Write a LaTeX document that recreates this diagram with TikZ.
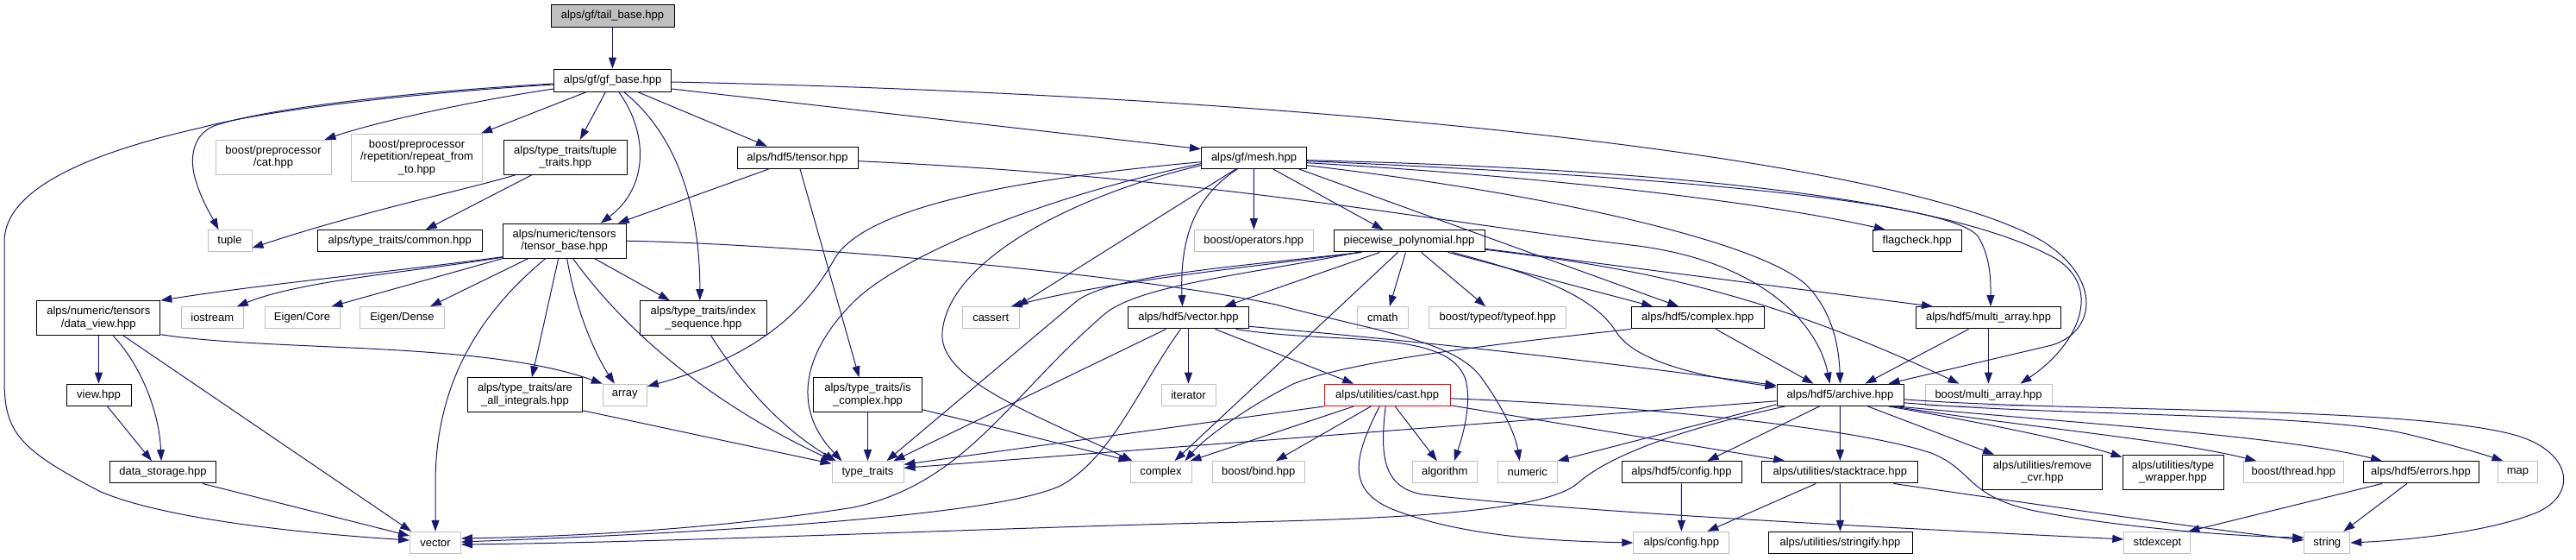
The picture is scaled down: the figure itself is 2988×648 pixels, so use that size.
\documentclass[tikz,border=0pt]{standalone}
\usepackage{fontspec}
\setmainfont{Liberation Sans}
\usetikzlibrary{arrows.meta}
\definecolor{edgec}{HTML}{191970}
\definecolor{extgray}{HTML}{BFBFBF}
\definecolor{tailfill}{HTML}{BFBFBF}
\newcommand{\nodefont}{\fontsize{13}{14.5}\selectfont}
\tikzset{
 nb/.style={draw=black, line width=1pt, fill=white, inner sep=0pt, align=center, font=\nodefont, minimum height=25.3pt},
 ng/.style={nb, draw=extgray},
 nr/.style={nb, draw=red},
 wd/.style={minimum width=#1pt},
 hh/.style={minimum height=#1pt},
 dep/.style={draw=edgec, line width=1pt, -{Triangle[length=13pt,width=9pt]}},
}
\begin{document}
\begin{tikzpicture}[x=1pt,y=-1pt]
\useasboundingbox (0,0) rectangle (2988,648);
% nodes
\node[nb, fill=tailfill, wd=143, hh=26] (tb) at (710.5,18.5) {alps/gf/tail\_base.hpp};
\node[nb, wd=136, hh=26] (gf) at (710.5,93) {alps/gf/gf\_base.hpp};
\node[ng, wd=134, hh=40] (cat) at (317,182.3) {boost/preprocessor\\/cat.hpp};
\node[ng, wd=152, hh=55] (rep) at (483.5,182.5) {boost/preprocessor\\/repetition/repeat\_from\\\_to.hpp};
\node[nb, wd=143, hh=40] (tt) at (655.8,182.3) {alps/type\_traits/tuple\\\_traits.hpp};
\node[nb, wd=140] (ht) at (925,182.7) {alps/hdf5/tensor.hpp};
\node[nb, wd=122] (mesh) at (1454.5,182.7) {alps/gf/mesh.hpp};
\node[ng, wd=51] (tuple) at (266.5,279.3) {tuple};
\node[nb, wd=191] (common) at (463.8,279.3) {alps/type\_traits/common.hpp};
\node[nb, wd=143, hh=40] (tbase) at (654.7,279.2) {alps/numeric/tensors\\/tensor\_base.hpp};
\node[ng, wd=138] (bops) at (1454.3,279.3) {boost/operators.hpp};
\node[nb, wd=175] (pp) at (1634.5,279.3) {piecewise\_polynomial.hpp};
\node[nb, wd=103] (flag) at (2223.8,279.3) {flagcheck.hpp};
\node[nb, wd=143, hh=40] (dv) at (114.3,368.7) {alps/numeric/tensors\\/data\_view.hpp};
\node[ng, wd=72] (ios) at (246.3,368.3) {iostream};
\node[ng, wd=87] (ecore) at (350.5,368.3) {Eigen/Core};
\node[ng, wd=98] (edense) at (466.5,368.3) {Eigen/Dense};
\node[nb, wd=147, hh=40] (iseq) at (815.8,368.7) {alps/type\_traits/index\\\_sequence.hpp};
\node[ng, wd=66] (cassert) at (1149.2,368.3) {cassert};
\node[nb, wd=140] (hvec) at (1378.5,368.3) {alps/hdf5/vector.hpp};
\node[ng, wd=59] (cmath) at (1603.8,368.3) {cmath};
\node[ng, wd=159] (typeof) at (1737.2,368.3) {boost/typeof/typeof.hpp};
\node[nb, wd=154] (hcx) at (1969.2,368.3) {alps/hdf5/complex.hpp};
\node[nb, wd=168] (hma) at (2306.5,368.3) {alps/hdf5/multi\_array.hpp};
\node[nb, wd=75] (view) at (114.5,457.8) {view.hpp};
\node[nb, wd=133, hh=40] (aai) at (609,457.8) {alps/type\_traits/are\\\_all\_integrals.hpp};
\node[ng, wd=51] (array) at (724.8,457.8) {array};
\node[nb, wd=126, hh=40] (isc) at (1006.5,457.8) {alps/type\_traits/is\\\_complex.hpp};
\node[ng, wd=63] (iter) at (1378.5,457.8) {iterator};
\node[nr, wd=146] (cast) at (1609.2,457.8) {alps/utilities/cast.hpp};
\node[nb, wd=147] (arch) at (2134.5,457.8) {alps/hdf5/archive.hpp};
\node[ng, wd=147] (bma) at (2306.5,457.8) {boost/multi\_array.hpp};
\node[nb, wd=123] (ds) at (189,547.3) {data\_storage.hpp};
\node[ng, wd=83] (tt2) at (1006.5,547.3) {type\_traits};
\node[ng, wd=71] (cplx) at (1346.5,547.3) {complex};
\node[ng, wd=107] (bind) at (1459.8,547.3) {boost/bind.hpp};
\node[ng, wd=75] (algo) at (1675.8,547.3) {algorithm};
\node[ng, wd=69] (num) at (1771.7,547.3) {numeric};
\node[nb, wd=139] (hcfg) at (1950.5,547.3) {alps/hdf5/config.hpp};
\node[nb, wd=181] (stack) at (2134.3,547.3) {alps/utilities/stacktrace.hpp};
\node[nb, wd=139, hh=40] (rcvr) at (2369,547.2) {alps/utilities/remove\\\_cvr.hpp};
\node[nb, wd=117, hh=40] (tw) at (2520.5,547.2) {alps/utilities/type\\\_wrapper.hpp};
\node[ng, wd=116] (bthr) at (2660.3,547.3) {boost/thread.hpp};
\node[nb, wd=134] (err) at (2808,547.3) {alps/hdf5/errors.hpp};
\node[ng, wd=46] (map) at (2920.5,547.3) {map};
\node[ng, wd=59] (vec) at (505,629) {vector};
\node[ng, wd=111] (acfg) at (1950.3,629) {alps/config.hpp};
\node[nb, wd=167] (strfy) at (2134.5,629) {alps/utilities/stringify.hpp};
\node[ng, wd=77] (stdex) at (2502.3,629) {stdexcept};
\node[ng, wd=53] (str) at (2699.3,629) {string};
% edges
\draw[dep] (tb) -- (gf);
\draw[dep] ([yshift=-4pt]gf.west) .. controls (450,108) and (300,128) .. (248,146) .. controls (220,158) and (220,190) .. (228,212) .. controls (234,232) and (245,250) .. ([xshift=-13pt]tuple.north);
\draw[dep] ([yshift=-5pt]gf.west) .. controls (450,110) and (300,130) .. (233,148) .. controls (100,178) and (5,220) .. (5,280) -- (5,440) .. controls (5,500) and (20,520) .. (117,570) .. controls (200,605) and (380,620) .. ([yshift=3pt]vec.west);
\draw[dep] ([yshift=-10pt]gf.west) .. controls (560,115) and (440,140) .. ([xshift=-8pt]cat.north east);
\draw[dep] ([xshift=-30pt]gf.south) -- ([xshift=-2pt]rep.north east);
\draw[dep] ([xshift=-8pt]gf.south) -- ([xshift=17pt]tt.north);
\draw[dep] ([xshift=7pt]gf.south) .. controls (750,150) and (755,215) .. ([xshift=42pt]tbase.north);
\draw[dep] ([xshift=13pt]gf.south) .. controls (790,160) and (812,250) .. ([xshift=-4pt]iseq.north);
\draw[dep] ([xshift=29pt]gf.south) -- ([xshift=-35pt]ht.north);
\draw[dep] ([yshift=-10pt]gf.east) -- ([yshift=10pt]mesh.west);
\draw[dep] ([yshift=-2pt]gf.east) .. controls (1500,110) and (2200,180) .. (2370,280) .. controls (2440,325) and (2430,385) .. (2380,400) -- ([xshift=-18pt]arch.north east);
% mesh
\draw[dep] ([yshift=-3pt]mesh.east) .. controls (1900,195) and (2250,225) .. (2385,300) .. controls (2440,335) and (2410,400) .. ([xshift=37pt]bma.north);
\draw[dep] ([yshift=-4pt]mesh.east) .. controls (1950,205) and (2270,235) .. (2295,275) .. controls (2310,300) and (2309,330) .. ([xshift=2.5pt]hma.north);
\draw[dep] ([yshift=-6pt]mesh.east) .. controls (1800,205) and (2050,235) .. ([xshift=15pt]flag.north west);
\draw[dep] ([xshift=22pt]mesh.south) -- ([xshift=-30pt]pp.north);
\draw[dep] ([xshift=52pt]mesh.south) -- ([xshift=-22pt]hcx.north);
\draw[dep] ([yshift=-9pt]mesh.east) .. controls (1800,225) and (2040,280) .. (2095,330) .. controls (2125,360) and (2133,400) .. (arch.north);
\draw[dep] (mesh) -- (bops);
\draw[dep] ([yshift=-5pt]mesh.west) .. controls (1150,210) and (1000,245) .. (968,300) .. controls (940,350) and (890,410) .. ([yshift=10pt]array.east);
\draw[dep] ([yshift=-7pt]mesh.west) .. controls (1200,230) and (1040,300) .. (990,350) .. controls (935,405) and (915,470) .. ([xshift=12pt]tt2.north west);
\draw[dep] ([yshift=-9pt]mesh.west) .. controls (1250,225) and (1100,300) .. (1093,385) .. controls (1088,440) and (1200,480) .. ([xshift=3pt]cplx.north west);
\draw[dep] ([xshift=-21pt]mesh.south) -- ([xshift=-3pt]cassert.north east);
\draw[dep] ([xshift=-19pt]mesh.south) .. controls (1390,225) and (1368,270) .. ([xshift=-7pt]hvec.north);
% piecewise
\draw[dep] ([xshift=-57pt]pp.south) .. controls (1450,310) and (1290,325) .. ([xshift=-10pt]cassert.north east);
\draw[dep] ([xshift=-60pt]pp.south) .. controls (1450,318) and (1320,330) .. (1280,365) .. controls (1170,460) and (1120,560) .. (990,588) .. controls (820,615) and (650,622) .. ([yshift=5pt]vec.east);
\draw[dep] ([xshift=-55pt]pp.south) .. controls (1420,310) and (1290,320) .. (1250,348) -- ([xshift=22pt]tt2.north);
\draw[dep] ([xshift=-34pt]pp.south) -- ([xshift=42pt]hvec.north);
\draw[dep] ([xshift=-4pt]pp.south) -- ([xshift=8pt]cmath.north);
\draw[dep] ([xshift=14pt]pp.south) -- ([xshift=-14pt]typeof.north);
\draw[dep] ([xshift=-13pt]pp.south) -- ([xshift=16pt]cplx.north);
\draw[dep] ([xshift=45pt]pp.south) -- ([xshift=-52pt]hcx.north);
\draw[dep] ([xshift=50pt]pp.south) .. controls (1790,320) and (1850,345) .. (1875,385) .. controls (1900,425) and (2000,440) .. ([yshift=-4pt]arch.north west);
\draw[dep] ([yshift=-9pt]pp.east) -- ([xshift=20pt]hma.north west);
\draw[dep] ([yshift=-10pt]pp.east) .. controls (1900,310) and (2050,340) .. ([xshift=40pt]bma.north west);
% hdf5 complex / multi_array
\draw[dep] ([xshift=21pt]hcx.south) -- ([xshift=-31pt]arch.north);
\draw[dep] (hcx.south west) .. controls (1720,400) and (1560,420) .. (1500,445) .. controls (1450,470) and (1400,505) .. ([xshift=-8pt]cplx.north east);
\draw[dep] ([xshift=-23pt]hma.south) -- ([xshift=29pt]arch.north);
\draw[dep] (hma) -- (bma);
% hdf5 tensor
\draw[dep] ([xshift=-33pt]ht.south) -- ([xshift=62pt]tbase.north);
\draw[dep] ([xshift=3pt]ht.south) -- ([xshift=-10pt]isc.north);
\draw[dep] ([yshift=-4pt]ht.east) .. controls (1400,205) and (1650,255) .. (1900,285) .. controls (2050,305) and (2110,380) .. ([xshift=-12pt]arch.north);
% tuple traits
\draw[dep] ([xshift=-58pt]tt.south) .. controls (540,220) and (420,245) .. ([yshift=-8pt]tuple.east);
\draw[dep] ([xshift=-39pt]tt.south) -- ([xshift=30pt]common.north);
% tensor base
\draw[dep] ([yshift=-18.5pt]tbase.west) .. controls (480,312) and (300,330) .. (dv.north east);
\draw[dep] ([yshift=-19pt]tbase.west) .. controls (480,315) and (350,325) .. ([xshift=-8pt]ios.north east);
\draw[dep] (tbase.south west) -- ([xshift=-10pt]ecore.north east);
\draw[dep] ([xshift=-42pt]tbase.south) -- ([xshift=-17pt]edense.north east);
\draw[dep] ([xshift=-22pt]tbase.south) .. controls (560,360) and (505,440) .. (505,560) -- (vec.north);
\draw[dep] ([xshift=-7pt]tbase.south) -- ([xshift=8pt]aai.north);
\draw[dep] ([xshift=3pt]tbase.south) .. controls (668,360) and (690,410) .. ([xshift=-12pt]array.north);
\draw[dep] ([xshift=10pt]tbase.south) .. controls (730,390) and (830,470) .. ([xshift=2pt]tt2.north west);
\draw[dep] ([xshift=35pt]tbase.south) -- ([xshift=-39pt]iseq.north);
\draw[dep] (tbase.east) .. controls (900,282) and (1300,315) .. (1480,353) .. controls (1600,385) and (1690,395) .. (1720,440) .. controls (1745,475) and (1758,505) .. ([xshift=-9pt]num.north);
% data view
\draw[dep] (dv) -- (view);
\draw[dep] ([xshift=17pt]dv.south) .. controls (165,425) and (185,480) .. ([xshift=-2pt]ds.north);
\draw[dep] ([xshift=29pt]dv.south) -- ([xshift=2pt]vec.north west);
\draw[dep] ([yshift=-19pt]dv.east) .. controls (320,408) and (560,395) .. (array.north west);
\draw[dep] ([xshift=10pt]view.south) -- ([xshift=-13pt]ds.north);
\draw[dep] ([xshift=46pt]ds.south) -- ([yshift=8pt]vec.west);
\draw[dep] ([yshift=-18pt]aai.east) -- ([yshift=10pt]tt2.west);
\draw[dep] ([xshift=9pt]iseq.south) .. controls (860,445) and (905,495) .. ([xshift=5pt]tt2.north west);
\draw[dep] (isc) -- (tt2);
\draw[dep] ([yshift=-17pt]isc.east) -- (cplx.north west);
% hdf5 vector
\draw[dep] ([xshift=-26pt]hvec.south) -- ([xshift=30pt]tt2.north);
\draw[dep] ([xshift=-9pt]hvec.south) .. controls (1320,450) and (1290,530) .. (1230,563) .. controls (1150,600) and (800,618) .. ([yshift=1pt]vec.east);
\draw[dep] (hvec) -- (iter);
\draw[dep] ([xshift=31pt]hvec.south) -- ([xshift=-39pt]cast.north);
\draw[dep] ([xshift=55pt]hvec.south) .. controls (1550,400) and (1680,380) .. (1700,440) .. controls (1708,470) and (1695,510) .. ([xshift=11pt]algo.north);
\draw[dep] ([yshift=-10pt]hvec.east) .. controls (1700,400) and (1900,425) .. ([yshift=-2pt]arch.north west);
% cast
\draw[dep] (cast.south west) -- ([yshift=9pt]tt2.east);
\draw[dep] ([xshift=-39pt]cast.south) -- ([xshift=-2pt]cplx.north east);
\draw[dep] ([xshift=-19pt]cast.south) -- ([xshift=20pt]bind.north);
\draw[dep] ([xshift=9pt]cast.south) -- ([xshift=-9pt]algo.north);
\draw[dep] ([xshift=-9pt]cast.south) .. controls (1570,530) and (1560,570) .. (1620,592) .. controls (1700,622) and (1800,627) .. (acfg.west);
\draw[dep] ([xshift=-2pt]cast.south) .. controls (1600,530) and (1605,565) .. (1650,573) .. controls (1850,595) and (2200,612) .. ([yshift=4pt]stdex.west);
\draw[dep] ([yshift=-12pt]cast.east) -- ([xshift=-64pt]stack.north);
\draw[dep] ([yshift=-4pt]cast.east) .. controls (1900,470) and (2150,495) .. (2240,525) .. controls (2290,545) and (2280,575) .. (2360,592) .. controls (2460,612) and (2600,622) .. ([yshift=6pt]str.west);
% archive
\draw[dep] ([yshift=-7pt]arch.west) -- ([yshift=5pt]tt2.east);
\draw[dep] ([yshift=-11pt]arch.west) -- (num.north east);
\draw[dep] ([xshift=-64pt]arch.south) .. controls (1960,495) and (1870,525) .. (1830,560) .. controls (1790,595) and (1600,602) .. (1400,606) .. controls (1150,612) and (800,628) .. ([yshift=-2pt]vec.east);
\draw[dep] ([xshift=-24pt]arch.south) -- ([xshift=30pt]hcfg.north);
\draw[dep] (arch) -- (stack);
\draw[dep] ([xshift=32pt]arch.south) -- ([xshift=14pt]rcvr.north west);
\draw[dep] ([xshift=56pt]arch.south) .. controls (2300,490) and (2400,510) .. ([yshift=-3pt]tw.north west);
\draw[dep] ([xshift=61pt]arch.south) .. controls (2350,495) and (2520,510) .. ([xshift=-43pt]bthr.north);
\draw[dep] ([xshift=66pt]arch.south) .. controls (2400,490) and (2650,505) .. ([xshift=-45pt]err.north);
\draw[dep] ([yshift=-9pt]arch.east) .. controls (2400,483) and (2700,478) .. (2800,505) .. controls (2850,517) and (2885,528) .. ([xshift=-17pt]map.north);
\draw[dep] ([yshift=-5pt]arch.east) .. controls (2400,478) and (2800,470) .. (2920,505) .. controls (2985,525) and (2990,575) .. (2940,595) .. controls (2880,618) and (2790,626) .. (str.east);
% lower
\draw[dep] (hcfg) -- (acfg);
\draw[dep] ([xshift=-28pt]stack.south) -- ([xshift=30pt]acfg.north);
\draw[dep] (stack) -- (strfy);
\draw[dep] ([xshift=62pt]stack.south) .. controls (2400,590) and (2550,612) .. ([yshift=3pt]str.west);
\draw[dep] ([xshift=-45pt]err.south) -- ([xshift=-3pt]stdex.north east);
\draw[dep] ([xshift=-16pt]err.south) -- ([xshift=-8pt]str.north east);
\end{tikzpicture}
\end{document}
